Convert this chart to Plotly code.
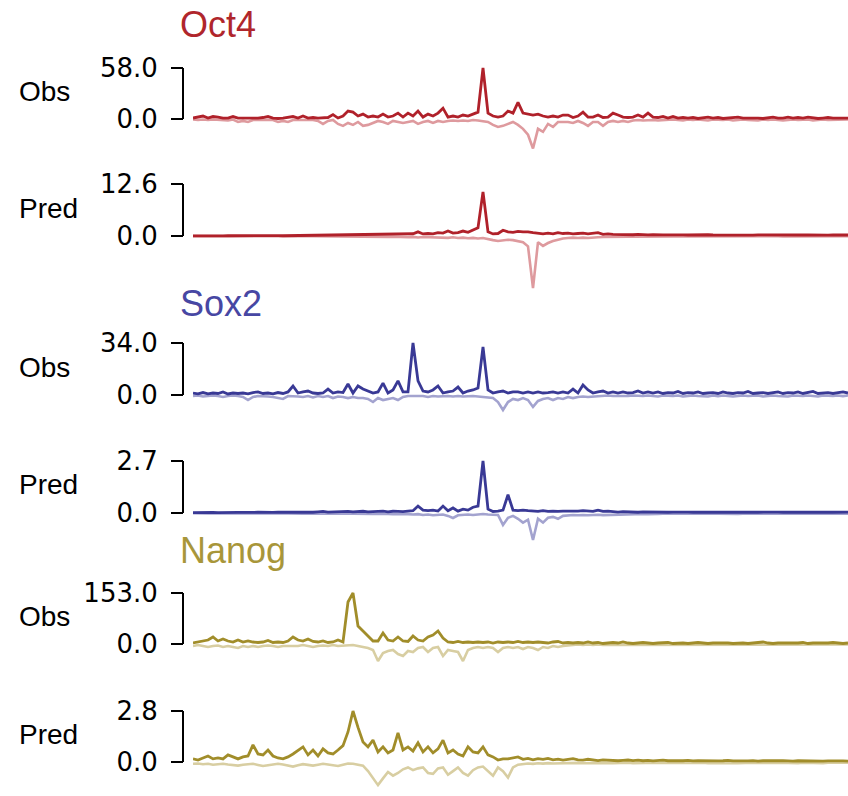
import plotly.graph_objects as go

W, H = 848, 796
BINS = list(range(132))

# ---------------- data ----------------
OCT4_OBS_POS = [1.1, 2.2, 3.4, 1.1, 2.8, 2.2, 1.1, 1.1, 2.8, 1.1,
                1.1, 0.6, 1.1, 1.1, 1.7, 2.8, 1.1, 0.6, 1.1, 1.7,
                2.8, 1.1, 3.4, 1.1, 1.7, 1.1, 1.1, 1.7, 5.0, 1.1,
                3.4, 9.0, 7.8, 3.4, 5.6, 2.2, 3.4, 2.2, 5.6, 2.2,
                3.4, 6.7, 2.2, 6.7, 3.4, 9.0, 2.2, 5.6, 3.4, 6.7,
                12.3, 2.2, 3.4, 2.2, 4.5, 3.4, 5.6, 7.8, 58.0, 6.7,
                3.4, 2.2, 3.4, 9.0, 6.7, 19.0, 6.7, 5.6, 4.5, 5.6,
                3.4, 2.2, 3.4, 2.2, 4.5, 4.5, 1.7, 3.4, 7.8, 2.2,
                2.2, 4.5, 1.7, 2.2, 6.7, 4.5, 2.2, 1.7, 2.2, 4.5,
                2.2, 6.7, 2.2, 1.7, 2.8, 1.1, 2.8, 1.1, 1.7, 1.1,
                1.7, 0.6, 1.1, 2.2, 1.1, 1.7, 0.6, 1.1, 1.1, 2.2,
                1.1, 1.1, 1.7, 1.1, 0.6, 1.1, 2.2, 1.1, 1.1, 2.2,
                1.1, 1.7, 1.1, 2.2, 1.1, 0.6, 1.1, 1.7, 1.1, 1.1,
                1.7, 1.1]
OCT4_OBS_NEG = [-0.6, -1.1, -0.6, -1.1, -0.6, -1.1, -1.1, -1.7, -0.6, -3.4,
                -2.2, -3.4, -1.1, -1.1, -0.6, -1.1, -1.1, -3.4, -2.2, -3.4,
                -1.1, -1.1, -1.1, -1.1, -1.1, -2.2, -5.6, -2.2, -1.1, -5.6,
                -7.8, -4.5, -6.7, -3.4, -7.8, -6.7, -4.5, -2.2, -3.4, -5.6,
                -2.2, -3.4, -4.5, -3.4, -2.2, -5.6, -3.4, -2.2, -4.5, -2.2,
                -3.4, -2.2, -1.7, -2.2, -1.7, -2.2, -1.1, -1.7, -2.2, -3.4,
                -6.7, -9.0, -7.8, -5.6, -3.4, -6.7, -11.2, -17.9, -33.6, -11.2,
                -14.6, -5.6, -9.0, -3.4, -3.4, -3.4, -4.5, -2.2, -4.5, -7.8,
                -3.4, -3.4, -7.8, -3.4, -2.2, -3.4, -2.2, -3.4, -1.7, -1.1,
                -1.7, -1.1, -1.1, -1.7, -1.1, -1.1, -0.6, -1.1, -1.7, -0.6,
                -1.1, -0.6, -1.1, -1.7, -0.6, -1.1, -1.1, -0.6, -1.7, -1.1,
                -0.6, -1.1, -1.1, -1.7, -0.6, -1.1, -0.6, -1.1, -1.7, -1.1,
                -0.6, -1.1, -1.1, -0.6, -1.7, -1.1, -0.6, -1.1, -1.1, -0.6,
                -1.1, -0.6]

OCT4_PRED_POS = [0.05, 0.08, 0.05, 0.06, 0.05, 0.07, 0.05, 0.06, 0.08, 0.05,
                 0.06, 0.05, 0.07, 0.06, 0.08, 0.05, 0.07, 0.09, 0.06, 0.08,
                 0.10, 0.08, 0.12, 0.10, 0.15, 0.12, 0.18, 0.15, 0.20, 0.17,
                 0.25, 0.20, 0.30, 0.22, 0.28, 0.35, 0.25, 0.30, 0.40, 0.30,
                 0.45, 0.35, 0.50, 0.40, 0.55, 1.00, 0.50, 0.60, 0.50, 0.80,
                 0.70, 1.20, 0.70, 0.80, 1.20, 0.90, 1.50, 2.00, 10.7, 1.00,
                 0.50, 0.60, 1.40, 1.00, 0.90, 1.10, 1.00, 1.00, 0.80, 0.60,
                 0.50, 0.70, 0.50, 0.80, 0.60, 0.70, 0.50, 0.60, 0.70, 0.50,
                 0.60, 0.80, 0.40, 0.50, 0.40, 0.35, 0.30, 0.35, 0.30, 0.40,
                 0.30, 0.25, 0.30, 0.22, 0.28, 0.25, 0.30, 0.22, 0.26, 0.24,
                 0.28, 0.22, 0.25, 0.30, 0.24, 0.22, 0.26, 0.30, 0.24, 0.22,
                 0.25, 0.28, 0.22, 0.26, 0.24, 0.30, 0.25, 0.22, 0.26, 0.24,
                 0.22, 0.26, 0.24, 0.28, 0.22, 0.25, 0.24, 0.22, 0.26, 0.24,
                 0.22, 0.24]
OCT4_PRED_NEG = [-0.02, -0.03, -0.02, -0.03, -0.02, -0.03, -0.02, -0.03, -0.02, -0.03,
                 -0.03, -0.04, -0.03, -0.04, -0.03, -0.04, -0.05, -0.04, -0.05, -0.04,
                 -0.05, -0.06, -0.05, -0.07, -0.06, -0.08, -0.07, -0.09, -0.08, -0.10,
                 -0.09, -0.12, -0.10, -0.14, -0.12, -0.15, -0.13, -0.18, -0.15, -0.20,
                 -0.18, -0.25, -0.20, -0.30, -0.22, -0.35, -0.25, -0.30, -0.28, -0.40,
                 -0.35, -0.45, -0.30, -0.50, -0.40, -0.55, -0.45, -0.60, -0.50, -0.80,
                 -1.00, -1.20, -1.00, -0.90, -1.00, -1.20, -1.50, -2.50, -12.6, -1.50,
                 -2.40, -1.70, -1.20, -0.90, -0.60, -0.50, -0.40, -0.50, -0.40, -0.50,
                 -0.35, -0.30, -0.25, -0.20, -0.22, -0.18, -0.20, -0.15, -0.18, -0.15,
                 -0.15, -0.12, -0.14, -0.12, -0.10, -0.12, -0.10, -0.11, -0.10, -0.12,
                 -0.10, -0.09, -0.11, -0.10, -0.09, -0.10, -0.08, -0.10, -0.09, -0.08,
                 -0.09, -0.08, -0.10, -0.09, -0.08, -0.09, -0.08, -0.07, -0.09, -0.08,
                 -0.07, -0.08, -0.09, -0.07, -0.08, -0.07, -0.08, -0.07, -0.06, -0.07,
                 -0.06, -0.07]

SOX2_OBS_POS = [1.3, 0.7, 1.6, 0.7, 1.3, 1.0, 2.0, 0.7, 1.3, 1.0,
                1.3, 0.7, 1.6, 2.0, 1.0, 1.3, 0.7, 1.6, 1.0, 2.0,
                5.9, 1.3, 2.0, 2.6, 1.3, 1.0, 1.3, 3.9, 1.3, 2.0,
                1.6, 7.2, 1.3, 5.9, 3.9, 2.6, 1.3, 2.0, 7.8, 1.3,
                3.3, 9.2, 2.0, 2.0, 34.0, 9.2, 2.6, 2.0, 3.3, 5.9,
                1.3, 2.0, 2.6, 5.2, 1.3, 2.6, 3.3, 4.6, 31.4, 3.3,
                1.3, 2.0, 2.6, 1.3, 2.0, 2.0, 1.3, 2.0, 1.3, 2.0,
                1.3, 1.6, 2.0, 1.3, 2.0, 1.3, 3.9, 1.3, 6.5, 3.3,
                1.3, 2.0, 2.6, 1.3, 2.0, 1.3, 2.0, 1.3, 1.6, 2.6,
                1.3, 2.0, 1.3, 2.0, 1.0, 1.6, 1.3, 2.3, 1.0, 1.6,
                1.3, 2.0, 1.0, 1.3, 1.6, 1.0, 2.0, 1.3, 1.0, 1.6,
                1.3, 2.3, 1.0, 1.3, 1.6, 1.0, 1.3, 2.0, 1.0, 1.6,
                1.3, 2.0, 1.0, 1.6, 2.3, 1.0, 1.3, 1.6, 1.0, 1.3,
                2.0, 1.3]
SOX2_OBS_NEG = [-0.7, -0.3, -1.0, -0.7, -0.3, -0.7, -1.3, -0.7, -0.3, -0.7,
                -1.3, -3.3, -1.3, -0.7, -0.7, -1.0, -1.3, -2.0, -2.6, -0.7,
                -0.7, -1.0, -1.3, -0.7, -1.6, -0.7, -1.3, -0.7, -2.0, -1.0,
                -1.3, -2.0, -1.3, -2.0, -2.0, -2.6, -4.6, -2.0, -3.3, -2.6,
                -2.0, -3.3, -1.3, -0.7, -0.7, -1.0, -0.7, -1.3, -0.7, -1.0,
                -0.7, -0.7, -1.0, -0.7, -1.0, -0.7, -0.7, -1.0, -1.3, -2.0,
                -2.0, -4.6, -9.8, -4.6, -2.6, -3.3, -2.0, -3.3, -7.8, -3.9,
                -2.6, -2.0, -3.3, -2.0, -2.6, -1.3, -2.0, -1.3, -1.0, -1.3,
                -1.0, -0.7, -0.7, -0.3, -0.7, -0.7, -1.0, -0.7, -0.3, -0.7,
                -0.7, -0.3, -0.7, -1.0, -0.3, -0.7, -0.7, -0.3, -1.0, -0.7,
                -0.3, -0.7, -0.7, -1.0, -0.3, -0.7, -0.3, -0.7, -1.0, -0.7,
                -0.3, -0.7, -0.7, -0.3, -1.0, -0.7, -0.3, -0.7, -0.7, -1.0,
                -0.3, -0.7, -0.7, -0.3, -0.7, -1.0, -0.3, -0.7, -0.7, -0.3,
                -0.7, -0.3]

SOX2_PRED_POS = [0.02, 0.03, 0.02, 0.02, 0.03, 0.02, 0.03, 0.02, 0.02, 0.03,
                 0.03, 0.02, 0.03, 0.04, 0.03, 0.02, 0.03, 0.04, 0.03, 0.04,
                 0.05, 0.04, 0.06, 0.05, 0.04, 0.06, 0.08, 0.05, 0.06, 0.07,
                 0.05, 0.08, 0.06, 0.07, 0.09, 0.06, 0.08, 0.07, 0.10, 0.06,
                 0.09, 0.08, 0.07, 0.10, 0.12, 0.36, 0.15, 0.12, 0.15, 0.10,
                 0.36, 0.12, 0.26, 0.10, 0.20, 0.15, 0.30, 0.36, 2.70, 0.20,
                 0.08, 0.10, 0.15, 0.95, 0.15, 0.12, 0.15, 0.12, 0.10, 0.08,
                 0.12, 0.08, 0.10, 0.08, 0.10, 0.09, 0.08, 0.10, 0.12, 0.09,
                 0.08, 0.15, 0.08, 0.10, 0.06, 0.05, 0.07, 0.05, 0.06, 0.04,
                 0.06, 0.05, 0.04, 0.06, 0.05, 0.04, 0.05, 0.06, 0.04, 0.05,
                 0.04, 0.05, 0.06, 0.04, 0.05, 0.04, 0.06, 0.05, 0.04, 0.05,
                 0.06, 0.04, 0.05, 0.04, 0.05, 0.06, 0.04, 0.05, 0.04, 0.05,
                 0.06, 0.04, 0.05, 0.04, 0.05, 0.04, 0.06, 0.05, 0.04, 0.05,
                 0.04, 0.05]
SOX2_PRED_NEG = [-0.01, -0.02, -0.01, -0.02, -0.01, -0.02, -0.01, -0.02, -0.02, -0.01,
                 -0.02, -0.01, -0.02, -0.02, -0.01, -0.02, -0.02, -0.03, -0.02, -0.02,
                 -0.03, -0.02, -0.03, -0.02, -0.03, -0.03, -0.02, -0.03, -0.03, -0.04,
                 -0.03, -0.04, -0.03, -0.04, -0.05, -0.04, -0.05, -0.04, -0.06, -0.05,
                 -0.06, -0.05, -0.07, -0.06, -0.08, -0.06, -0.10, -0.08, -0.12, -0.10,
                 -0.08, -0.15, -0.26, -0.12, -0.10, -0.08, -0.10, -0.08, -0.05, -0.08,
                 -0.10, -0.10, -0.62, -0.25, -0.15, -0.30, -0.50, -0.35, -1.40, -0.30,
                 -0.50, -0.25, -0.20, -0.30, -0.15, -0.12, -0.10, -0.12, -0.10, -0.12,
                 -0.10, -0.09, -0.11, -0.10, -0.09, -0.08, -0.07, -0.08, -0.06, -0.07,
                 -0.05, -0.06, -0.04, -0.05, -0.04, -0.05, -0.04, -0.03, -0.04, -0.05,
                 -0.04, -0.03, -0.04, -0.05, -0.04, -0.03, -0.04, -0.03, -0.04, -0.05,
                 -0.04, -0.03, -0.04, -0.03, -0.04, -0.05, -0.04, -0.03, -0.04, -0.03,
                 -0.04, -0.03, -0.04, -0.05, -0.04, -0.03, -0.04, -0.03, -0.04, -0.03,
                 -0.04, -0.03]

NANOG_OBS_POS = [3, 6, 9, 12, 21, 9, 15, 9, 6, 12,
                 6, 9, 6, 4.5, 6, 10.5, 4.5, 6, 4.5, 9,
                 21, 12, 9, 15, 7.5, 6, 9, 4.5, 6, 12,
                 6, 126, 153, 54, 39, 24, 9, 9, 33, 12,
                 9, 21, 9, 7.5, 24, 12, 9, 21, 27, 39,
                 18, 6, 4.5, 7.5, 4.5, 6, 4.5, 6, 4.5, 6,
                 3, 6, 4.5, 6, 4.5, 7.5, 4.5, 6, 4.5, 6,
                 4.5, 3, 6, 7.5, 3, 4.5, 3, 4.5, 3, 6,
                 3, 4.5, 1.5, 3, 4.5, 3, 6, 3, 1.5, 3,
                 4.5, 3, 1.5, 3, 3, 4.5, 1.5, 3, 3, 1.5,
                 3, 4.5, 3, 1.5, 3, 3, 4.5, 3, 1.5, 3,
                 3, 1.5, 3, 4.5, 6, 3, 1.5, 3, 3, 1.5,
                 3, 3, 4.5, 1.5, 3, 3, 1.5, 3, 4.5, 3,
                 1.5, 3]
NANOG_OBS_NEG = [-6, -3, -6, -9, -6, -4.5, -9, -6, -9, -12,
                 -6, -9, -6, -9, -6, -4.5, -6, -9, -6, -6,
                 -4.5, -6, -3, -6, -9, -6, -4.5, -6, -3, -6,
                 -4.5, -3, -3, -6, -9, -12, -18, -51, -27, -21,
                 -18, -30, -36, -21, -24, -12, -9, -24, -12, -9,
                 -36, -18, -21, -24, -51, -18, -12, -9, -12, -9,
                 -12, -24, -12, -9, -12, -9, -15, -9, -12, -18,
                 -9, -12, -6, -9, -6, -4.5, -3, -1.5, -3, -1.5,
                 -3, -1.5, -3, -3, -1.5, -3, -1.5, -3, -1.5, -3,
                 -1.5, -3, -1.5, -1.5, -3, -1.5, -3, -1.5, -1.5, -3,
                 -1.5, -3, -1.5, -3, -1.5, -1.5, -3, -1.5, -3, -1.5,
                 -1.5, -3, -1.5, -1.5, -3, -1.5, -3, -1.5, -1.5, -3,
                 -1.5, -3, -1.5, -3, -1.5, -1.5, -3, -1.5, -3, -1.5,
                 -3, -1.5]

NANOG_PRED_POS = [0.17, 0.11, 0.22, 0.33, 0.17, 0.22, 0.17, 0.39, 0.28, 0.17,
                  0.28, 0.33, 0.94, 0.44, 0.39, 0.66, 0.33, 0.22, 0.17, 0.28,
                  0.44, 0.66, 0.83, 0.39, 0.66, 0.33, 0.72, 0.50, 0.44, 0.66,
                  0.90, 1.65, 2.80, 1.90, 1.10, 0.83, 1.20, 0.55, 0.83, 0.50,
                  0.66, 1.60, 0.66, 0.83, 0.60, 1.05, 0.55, 0.83, 0.50, 0.72,
                  1.20, 0.50, 0.66, 0.44, 0.33, 0.83, 0.55, 0.50, 0.83, 0.39,
                  0.28, 0.11, 0.17, 0.17, 0.22, 0.28, 0.15, 0.20, 0.12, 0.18,
                  0.14, 0.20, 0.12, 0.16, 0.10, 0.14, 0.18, 0.12, 0.10, 0.15,
                  0.10, 0.08, 0.12, 0.09, 0.10, 0.07, 0.09, 0.11, 0.08, 0.10,
                  0.07, 0.09, 0.06, 0.08, 0.10, 0.07, 0.06, 0.08, 0.07, 0.09,
                  0.06, 0.08, 0.07, 0.05, 0.08, 0.06, 0.07, 0.09, 0.06, 0.05,
                  0.07, 0.06, 0.08, 0.05, 0.07, 0.06, 0.05, 0.07, 0.08, 0.06,
                  0.05, 0.07, 0.06, 0.05, 0.07, 0.06, 0.05, 0.06, 0.07, 0.05,
                  0.06, 0.05]
NANOG_PRED_NEG = [-0.10, -0.08, -0.12, -0.10, -0.15, -0.12, -0.10, -0.14, -0.18, -0.20,
                  -0.15, -0.12, -0.10, -0.16, -0.22, -0.18, -0.12, -0.10, -0.14, -0.20,
                  -0.25, -0.18, -0.12, -0.16, -0.20, -0.15, -0.10, -0.14, -0.18, -0.22,
                  -0.15, -0.08, -0.10, -0.15, -0.20, -0.50, -0.90, -1.27, -0.90, -0.55,
                  -0.75, -0.60, -0.40, -0.30, -0.45, -0.35, -0.30, -0.60, -0.65, -0.35,
                  -0.30, -0.70, -0.50, -0.30, -0.60, -0.75, -0.45, -0.30, -0.25, -0.50,
                  -0.75, -0.30, -0.50, -0.85, -0.30, -0.15, -0.10, -0.08, -0.10, -0.07,
                  -0.09, -0.06, -0.08, -0.07, -0.05, -0.07, -0.06, -0.05, -0.07, -0.06,
                  -0.05, -0.06, -0.04, -0.05, -0.06, -0.04, -0.05, -0.04, -0.06, -0.05,
                  -0.04, -0.05, -0.06, -0.04, -0.05, -0.04, -0.05, -0.06, -0.04, -0.05,
                  -0.04, -0.05, -0.04, -0.06, -0.05, -0.04, -0.05, -0.04, -0.05, -0.06,
                  -0.04, -0.05, -0.04, -0.05, -0.06, -0.04, -0.05, -0.04, -0.05, -0.04,
                  -0.05, -0.06, -0.04, -0.05, -0.04, -0.05, -0.06, -0.04, -0.05, -0.04,
                  -0.05, -0.04]

FACTORS = ["Oct4", "Sox2", "Nanog"]
ROW_KINDS = ["Obs", "Pred"]
AXIS_MAX = [58.0, 12.6, 34.0, 2.7, 153.0, 2.8]
AXIS_MAX_LABELS = ["58.0", "12.6", "34.0", "2.7", "153.0", "2.8"]
POS_SERIES = [OCT4_OBS_POS, OCT4_PRED_POS, SOX2_OBS_POS, SOX2_PRED_POS, NANOG_OBS_POS, NANOG_PRED_POS]
NEG_SERIES = [OCT4_OBS_NEG, OCT4_PRED_NEG, SOX2_OBS_NEG, SOX2_PRED_NEG, NANOG_OBS_NEG, NANOG_PRED_NEG]

# ---------------- styling / layout ----------------
DARK = {"Oct4": "#B0212A", "Sox2": "#393995", "Nanog": "#A18D2A"}
LIGHT = {"Oct4": "#DE9A9E", "Sox2": "#A3A3CF", "Nanog": "#D8CEA2"}
TITLE_COL = {"Oct4": "#B0262C", "Sox2": "#4747A3", "Nanog": "#A8963A"}
FONT = "Liberation Sans, Arial, sans-serif"
TICK_FONT = "DejaVu Sans, sans-serif"

# pixel geometry per panel: (zero, max, domain top, domain bottom)
GEOM = [(119, 68, 60, 152), (236, 184, 176, 294), (395, 343, 335, 415),
        (513, 461, 453, 542), (644, 593, 585, 665), (762, 711, 703, 796)]
TITLE_Y = [25, 303, 550]
AXIS_X = 183
DATA_X0 = 193

fig = go.Figure()
layout = dict(width=W, height=H, margin=dict(l=0, r=0, t=0, b=0, autoexpand=False),
              paper_bgcolor="white", plot_bgcolor="rgba(0,0,0,0)",
              showlegend=False, annotations=[], shapes=[])

for k in range(6):
    n = k + 1
    fac = FACTORS[k // 2]
    kind = ROW_KINDS[k % 2]
    ymax = AXIS_MAX[k]
    y0p, ymp, topp, botp = GEOM[k]
    upp = ymax / (y0p - ymp)
    hi = ymax + (ymp - topp) * upp
    lo = -(botp - y0p) * upp
    xa = "x" if n == 1 else f"x{n}"
    ya = "y" if n == 1 else f"y{n}"
    fig.add_trace(go.Scatter(x=BINS, y=NEG_SERIES[k], mode="lines", xaxis=xa, yaxis=ya,
                             line=dict(color=LIGHT[fac], width=2.6), hoverinfo="skip"))
    fig.add_trace(go.Scatter(x=BINS, y=POS_SERIES[k], mode="lines", xaxis=xa, yaxis=ya,
                             line=dict(color=DARK[fac], width=2.8), hoverinfo="skip"))
    layout[f"xaxis{n if n > 1 else ''}"] = dict(domain=[DATA_X0 / W, 1], range=[0, len(BINS) - 1],
                                                visible=False, anchor=ya, fixedrange=True)
    layout[f"yaxis{n if n > 1 else ''}"] = dict(
        domain=[1 - botp / H, 1 - topp / H], range=[lo, hi], anchor="free", position=AXIS_X / W,
        showgrid=False, zeroline=False, showline=False, ticks="outside", ticklen=12, tickwidth=2,
        tickcolor="black", tickvals=[0, ymax], ticktext=["0.0", AXIS_MAX_LABELS[k]],
        ticklabelstandoff=8,
        tickfont=dict(family=TICK_FONT, size=26, color="black"), fixedrange=True)
    layout["shapes"].append(dict(type="line", xref="paper", yref=ya, x0=AXIS_X / W, x1=AXIS_X / W,
                                 y0=0, y1=ymax, line=dict(color="black", width=2)))
    layout["annotations"].append(dict(text=kind, xref="paper", yref="paper", x=17 / W,
                                      y=1 - ((y0p + ymp) / 2 - 2) / H, xanchor="left", yanchor="middle",
                                      showarrow=False, font=dict(family=FONT, size=28, color="black")))

for j, fac in enumerate(FACTORS):
    layout["annotations"].append(dict(text=fac, xref="paper", yref="paper", x=178 / W,
                                      y=1 - TITLE_Y[j] / H, xanchor="left", yanchor="middle",
                                      showarrow=False, font=dict(family=FONT, size=36, color=TITLE_COL[fac])))

fig.update_layout(**layout)
fig.write_html("out.html")
